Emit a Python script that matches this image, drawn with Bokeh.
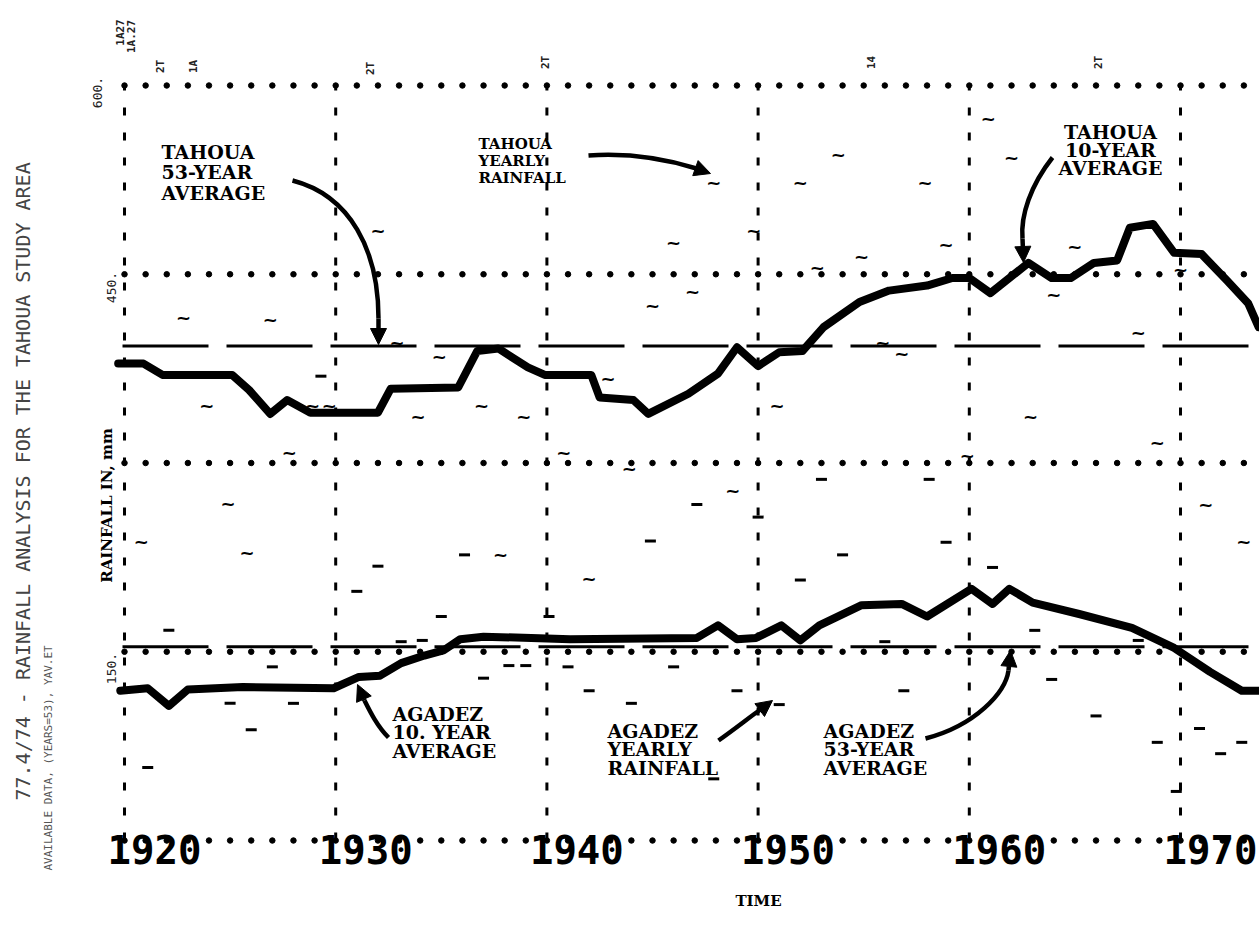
import math
import numpy as np
from bokeh.plotting import figure
from bokeh.models import Label, Arrow, NormalHead, Range1d
from bokeh.embed import file_html
from bokeh.resources import INLINE
from bokeh.core.properties import value

# ---------------- data ----------------
decades = [1920, 1930, 1940, 1950, 1960, 1970]
decade_labels = ["1920", "1930", "1940", "1950", "1960", "1970"]
grid_rows_mm = [0, 150, 300, 450, 600]
y_tick_values = [600, 450, 150]
y_tick_labels = ["600.", "450.", "150."]

tahoua_avg_53 = 393
agadez_avg_53 = 154

# Tahoua yearly rainfall (mm)
tahoua_year = [1920.8, 1922.8, 1923.9, 1924.9, 1925.8, 1926.9, 1927.8, 1928.9, 1929.7,
               1932.0, 1932.9, 1933.9, 1934.9, 1936.9, 1937.8, 1938.9, 1940.8, 1942.0,
               1942.9, 1943.9, 1945.0, 1946.0, 1946.9, 1947.9, 1948.8, 1949.8, 1950.9,
               1952.0, 1952.8, 1953.8, 1954.9, 1955.9, 1956.8, 1957.9, 1958.9, 1959.9,
               1960.9, 1962.0, 1962.9, 1964.0, 1965.0, 1968.0, 1968.9, 1970.0, 1971.2,
               1973.0]
tahoua_rain = [238, 416, 346, 268, 229, 414, 308, 346, 346,
               485, 396, 337, 385, 346, 227, 337, 308, 208,
               367, 296, 425, 475, 436, 523, 278, 485, 346,
               523, 455, 545, 464, 396, 387, 523, 474, 306,
               574, 543, 337, 434, 472, 404, 316, 454, 267,
               238]

# Agadez yearly rainfall (mm)
agadez_year = [1921.1, 1922.1, 1925.0, 1926.0, 1927.0, 1928.0, 1929.3, 1931.0, 1932.0,
               1933.1, 1934.1, 1935.0, 1936.1, 1937.0, 1938.2, 1939.0, 1940.1, 1941.0,
               1942.0, 1944.0, 1944.9, 1946.0, 1947.1, 1947.9, 1949.0, 1950.0, 1951.0,
               1952.0, 1953.0, 1954.0, 1956.0, 1956.9, 1958.1, 1958.9, 1961.1, 1963.1,
               1963.9, 1966.0, 1968.0, 1968.9, 1969.8, 1970.9, 1971.9, 1972.9]
agadez_rain = [58, 167, 109, 88, 138, 109, 369, 198, 218,
               158, 159, 178, 227, 129, 139, 139, 178, 138,
               119, 109, 238, 138, 267, 49, 119, 257, 108,
               207, 287, 227, 158, 119, 287, 237, 217, 167,
               128, 99, 159, 78, 39, 89, 69, 78]

# 10-year running averages (mm)
tahoua_10yr_year = [1919.7, 1920.9, 1921.8, 1925.1, 1925.9, 1926.9, 1927.7, 1928.8, 1932.0,
                    1932.6, 1935.8, 1936.7, 1937.7, 1939.1, 1939.9, 1942.1, 1942.5, 1944.1,
                    1944.8, 1946.7, 1948.1, 1949.0, 1950.0, 1951.0, 1952.1, 1953.1, 1954.8,
                    1956.2, 1958.0, 1959.2, 1960.0, 1961.0, 1962.8, 1963.9, 1964.8, 1965.9,
                    1967.0, 1967.6, 1968.7, 1969.7, 1971.0, 1972.2, 1973.2, 1973.7]
tahoua_10yr_rain = [379, 379, 370, 370, 358, 339, 350, 340, 340,
                    359, 360, 389, 391, 376, 370, 370, 352, 350,
                    339, 355, 371, 392, 377, 388, 389, 408, 428,
                    437, 441, 447, 447, 435, 459, 447, 447, 459,
                    461, 487, 490, 467, 466, 445, 427, 408]

agadez_10yr_year = [1919.8, 1921.1, 1922.1, 1923.0, 1925.6, 1929.9, 1931.1, 1932.1, 1933.1,
                    1934.2, 1935.1, 1935.9, 1937.0, 1941.1, 1947.1, 1948.1, 1949.0, 1949.9,
                    1951.1, 1952.0, 1952.9, 1954.9, 1956.8, 1958.0, 1960.1, 1961.1, 1961.9,
                    1963.0, 1965.2, 1967.7, 1969.7, 1971.4, 1972.9, 1973.7]
agadez_10yr_rain = [119, 121, 107, 120, 122, 121, 130, 131, 141,
                    147, 151, 160, 162, 160, 161, 171, 160, 161,
                    171, 159, 171, 187, 188, 178, 200, 188, 200,
                    189, 180, 169, 153, 134, 119, 119]

# ---------------- layout (frame covers the whole page) ----------------
W, H = 1259, 947
PX1920, PPY = 124.0, 21.12        # pixel of 1920, pixels per year
PY0, PPM = 840.0, 755.0 / 600.0   # pixel of 0 mm, pixels per mm


def X(px):
    return 1920 + (px - PX1920) / PPY


def Y(py):
    return (PY0 - py) / PPM


p = figure(width=W, height=H, x_range=Range1d(X(0), X(W)), y_range=Range1d(Y(H), Y(0)),
           output_backend="svg", toolbar_location=None,
           x_axis_location=None, y_axis_location=None,
           min_border=0, min_border_left=0, min_border_right=0,
           min_border_top=0, min_border_bottom=0)
p.outline_line_color = None
p.background_fill_color = "white"
p.border_fill_color = "white"
p.xgrid.visible = False
p.ygrid.visible = False

x_hi = X(W)

# vertical dashed decade lines
p.segment(x0=decades, y0=[0] * len(decades), x1=decades, y1=[600] * len(decades),
          line_color="black", line_width=3, line_dash="8 17")

# dotted horizontal grid rows
dot_years = np.arange(1920, 1974)
dx = np.tile(dot_years, len(grid_rows_mm))
dy = np.repeat(grid_rows_mm, len(dot_years))
p.scatter(dx, dy, size=5.5, color="black")

# 53-year averages
for v in (tahoua_avg_53, agadez_avg_53):
    p.line([X(122), x_hi], [v, v], line_color="black", line_width=3, line_dash="86 18")

# 10-year averages
p.line(tahoua_10yr_year, tahoua_10yr_rain, line_width=8, color="black",
       line_join="round", line_cap="round")
p.line(agadez_10yr_year, agadez_10yr_rain, line_width=8, color="black",
       line_join="round", line_cap="round")

# yearly values
p.text(x=tahoua_year, y=tahoua_rain, text=["~"] * len(tahoua_year),
       text_font=value("DejaVu Sans"), text_font_size="18px", text_font_style="bold",
       text_align="center", text_baseline="middle", text_color="black")
p.scatter(agadez_year, agadez_rain, marker="dash", size=11, line_width=3, color="black")

# decade labels (start a little left of each grid line, as in the original)
label_shift_years = -17 / PPY
p.text(x=[d + label_shift_years for d in decades], y=[Y(834)] * len(decades),
       text=decade_labels, text_font=value("DejaVu Sans Mono"), text_font_style="bold",
       text_font_size="39px", text_align="left", text_baseline="top", text_color="black")

# ---------------- annotations ----------------
ann_font = "DejaVu Serif"


def block(txt, px, py, align="left", size="19px", lh=0.86):
    p.add_layout(Label(x=X(px), y=Y(py), text=txt, text_font=ann_font,
                       text_font_style="bold", text_font_size=size,
                       text_align=align, text_baseline="top",
                       text_line_height=lh, text_color="black"))


block("TAHOUA\n53-YEAR\nAVERAGE", 161, 140, size="19px", lh=0.95)
block("TAHOUA\nYEARLY\nRAINFALL", 478, 134, size="15px", lh=0.95)
block("TAHOUA\n10-YEAR\nAVERAGE", 1110, 120, align="center", size="19px", lh=0.82)
block("AGADEZ\n10. YEAR\nAVERAGE", 392, 702, size="19px", lh=0.86)
block("AGADEZ\nYEARLY\nRAINFALL", 607, 719, size="19px", lh=0.86)
block("AGADEZ\n53-YEAR\nAVERAGE", 823, 719, size="19px", lh=0.86)

arrows = [
    # (start, cp0, cp1, end, head_tip)
    ((292, 180), (350, 195), (378, 250), (378, 318), (378, 344)),
    ((588, 155), (630, 152), (670, 160), (696, 168), (710, 173)),
    ((1052, 157), (1030, 185), (1020, 215), (1022, 238), (1023, 262)),
    ((388, 737), (377, 726), (370, 712), (364, 700), (357, 684)),
    ((718, 740), (735, 728), (750, 716), (760, 709), (772, 700)),
    ((925, 738), (975, 725), (1005, 692), (1008, 670), (1010, 650)),
]
for s, c0, c1, e, tip in arrows:
    p.bezier(x0=[X(s[0])], y0=[Y(s[1])], x1=[X(e[0])], y1=[Y(e[1])],
             cx0=[X(c0[0])], cy0=[Y(c0[1])], cx1=[X(c1[0])], cy1=[Y(c1[1])],
             line_width=4.5, line_color="black")
    p.add_layout(Arrow(end=NormalHead(size=16, fill_color="black", line_color="black"),
                       x_start=X(e[0]), y_start=Y(e[1]), x_end=X(tip[0]), y_end=Y(tip[1]),
                       line_width=4.5, line_color="black"))

# axis texts
p.add_layout(Label(x=X(758), y=Y(900), text="TIME", text_font=ann_font,
                   text_font_style="bold", text_font_size="15px",
                   text_align="center", text_baseline="middle", text_color="black"))

ytick_px = [(97, 92), (111, 287), (111, 668)]
for lab, (px, py) in zip(y_tick_labels, ytick_px):
    p.add_layout(Label(x=X(px), y=Y(py), text=lab, angle=math.pi / 2,
                       text_font="DejaVu Sans Mono", text_font_size="13px",
                       text_align="center", text_baseline="middle", text_color="#222"))

p.add_layout(Label(x=X(106), y=Y(505), text="RAINFALL IN, mm", angle=math.pi / 2,
                   text_font=ann_font, text_font_style="bold", text_font_size="15px",
                   text_align="center", text_baseline="middle", text_color="black"))

# small plotter codes along the top
codes = [("1A27", 120, 32), ("1A.27", 131, 36), ("2T", 160, 66), ("1A", 193, 66),
         ("2T", 370, 68), ("2T", 545, 62), ("14", 870, 62), ("2T", 1098, 62)]
for t, px, py in codes:
    p.add_layout(Label(x=X(px), y=Y(py), text=t, angle=math.pi / 2,
                       text_font="DejaVu Sans Mono", text_font_style="bold",
                       text_font_size="11px", text_align="center",
                       text_baseline="middle", text_color="#222"))

# faint page notes on the left margin
p.add_layout(Label(x=X(22), y=Y(800),
                   text="77.4/74 - RAINFALL ANALYSIS FOR THE TAHOUA STUDY AREA",
                   angle=math.pi / 2, text_font="DejaVu Sans Mono", text_font_size="20px",
                   text_align="left", text_baseline="middle", text_color="#444"))
p.add_layout(Label(x=X(48), y=Y(870), text="AVAILABLE DATA, (YEARS=53), YAV.ET",
                   angle=math.pi / 2, text_font="DejaVu Sans Mono", text_font_size="11px",
                   text_align="left", text_baseline="middle", text_color="#555"))

open("out.html", "w").write(file_html(p, INLINE))
